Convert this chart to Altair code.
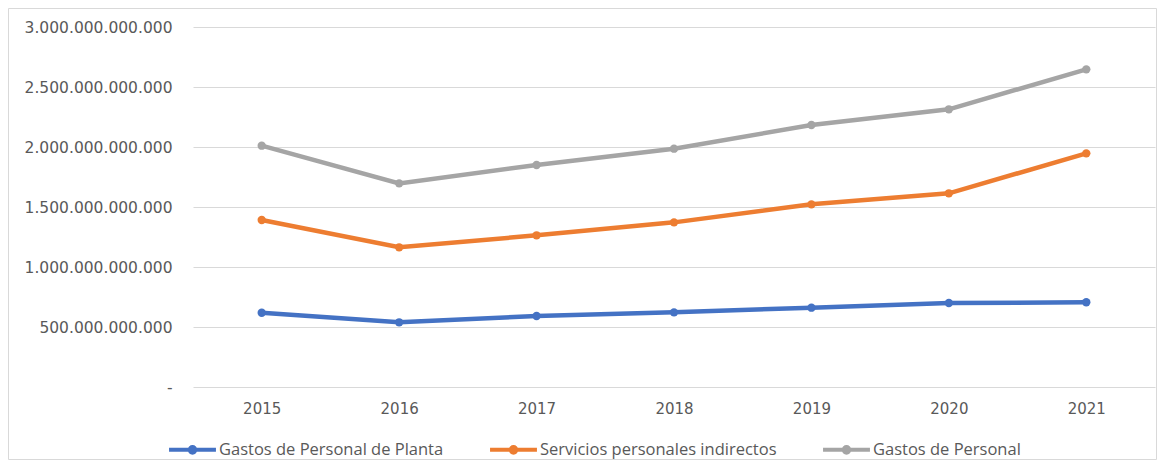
import altair as alt
import pandas as pd

years = ["2015", "2016", "2017", "2018", "2019", "2020", "2021"]
planta = [619e9, 539e9, 592e9, 622e9, 661e9, 700e9, 706e9]
indirectos = [1392e9, 1164e9, 1264e9, 1372e9, 1522e9, 1614e9, 1947e9]
total = [2011e9, 1697e9, 1850e9, 1986e9, 2183e9, 2314e9, 2647e9]
series = ["Gastos de Personal de Planta", "Servicios personales indirectos", "Gastos de Personal"]
colors = ["#4472C4", "#ED7D31", "#A5A5A5"]
y_ticks = [0, 5e11, 1e12, 1.5e12, 2e12, 2.5e12, 3e12]

rows = []
for name, vals in zip(series, [planta, indirectos, total]):
    for yr, v in zip(years, vals):
        rows.append({"year": yr, "value": v, "series": name})
df = pd.DataFrame(rows)

W, H = 962, 360
label_color = "#595959"

legend_symbol = ("M-1,0L1,0 M-0.12,0 A0.12,0.12 0 1,0 0.12,0 "
                 "A0.12,0.12 0 1,0 -0.12,0 Z")

base = alt.Chart(df).encode(
    x=alt.X("year:N", sort=years, title=None,
            scale=alt.Scale(type="point", padding=0.5),
            axis=alt.Axis(labelAngle=0, ticks=False, domain=False, grid=False,
                          labelFont="DejaVu Sans", labelFontSize=15,
                          labelColor=label_color, labelPadding=14)),
    y=alt.Y("value:Q", title=None,
            scale=alt.Scale(domain=[0, 3e12], nice=False, zero=True),
            axis=alt.Axis(values=y_ticks, ticks=False, domain=False,
                          gridColor="#D9D9D9", gridWidth=1,
                          labelFont="DejaVu Sans", labelFontSize=15.5,
                          labelColor=label_color, labelPadding=21,
                          labelExpr="datum.value == 0 ? '-' : replace(format(datum.value, ',.0f'), regexp(',', 'g'), '.')")),
    color=alt.Color("series:N", sort=series,
                    scale=alt.Scale(domain=series, range=colors),
                    legend=alt.Legend(title=None, orient="none", direction="horizontal",
                                      legendX=-26, legendY=397,
                                      symbolType=legend_symbol, symbolSize=2200,
                                      symbolStrokeWidth=4, columnPadding=38,
                                      labelOffset=1, labelLimit=400,
                                      labelFont="Open Sans", labelFontSize=16.5,
                                      labelColor=label_color, padding=0)),
)

lines = base.mark_line(strokeWidth=4.5)
points = base.mark_circle(size=70, opacity=1)

frame = alt.Chart(pd.DataFrame({"a": [0]})).mark_rect(
    fillOpacity=0, stroke="#D9D9D9", strokeWidth=1
).encode(
    x=alt.value(-184.5), x2=alt.value(963.5),
    y=alt.value(-18.5), y2=alt.value(432.5),
)

chart = alt.layer(frame, lines, points).properties(
    width=W, height=H,
    background="white",
    autosize=alt.AutoSizeParams(type="none"),
    padding={"left": 185, "top": 19, "right": 2, "bottom": 73},
).configure_view(stroke=None)

chart.save("out.html", embed_options={"renderer": "svg", "actions": False})
